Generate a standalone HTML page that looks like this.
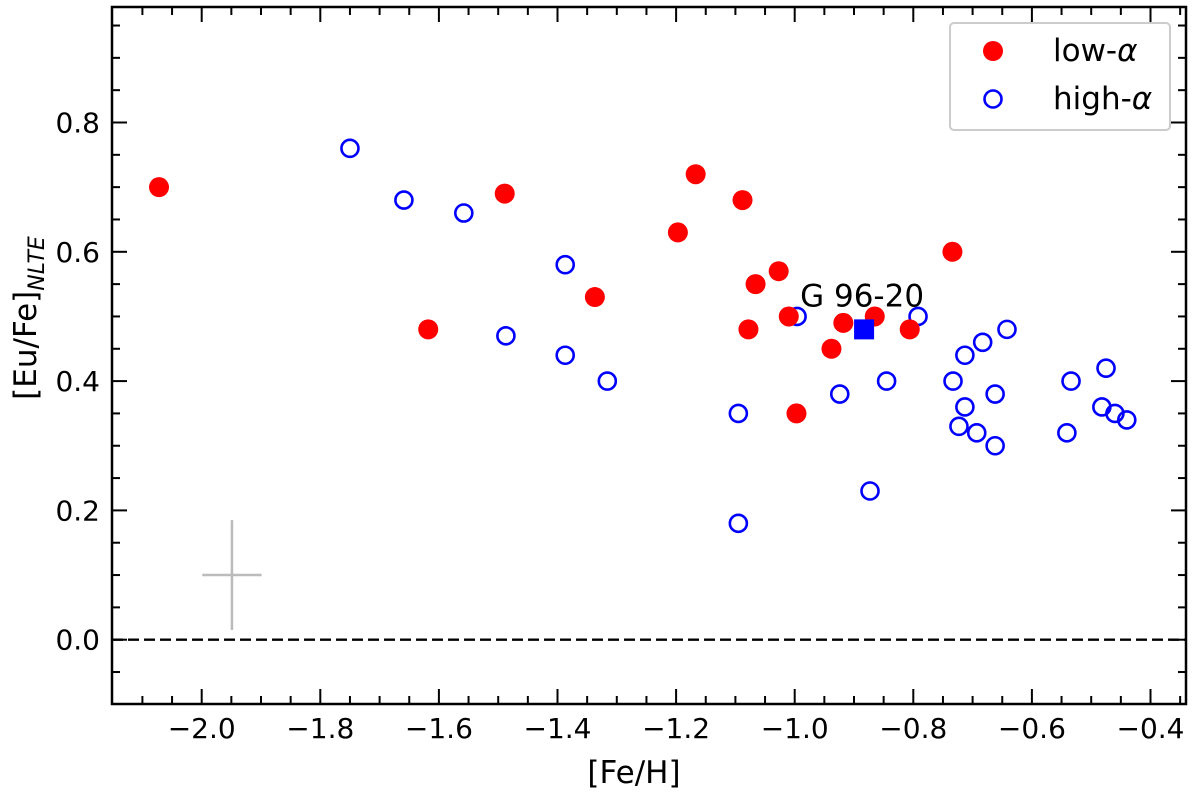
<!DOCTYPE html>
<html><head><meta charset="utf-8"><style>
body{margin:0;background:#fff;}
svg{display:block;font-family:"DejaVu Sans","Liberation Sans",sans-serif;}
</style></head><body>
<svg id="chart" width="1200" height="795">
</svg>
<script>
const lowAlphaFe=[-2.072,-1.618,-1.489,-1.337,-1.197,-1.167,-1.088,-1.078,-1.066,-1.027,-1.010,-0.997,-0.938,-0.918,-0.865,-0.806,-0.734];
const lowAlphaEu=[0.70,0.48,0.69,0.53,0.63,0.72,0.68,0.48,0.55,0.57,0.50,0.35,0.45,0.49,0.50,0.48,0.60];
const highAlphaFe=[-1.750,-1.659,-1.558,-1.487,-1.387,-1.387,-1.316,-1.095,-1.095,-0.996,-0.924,-0.873,-0.845,-0.792,-0.733,-0.723,-0.713,-0.713,-0.693,-0.683,-0.662,-0.662,-0.642,-0.534,-0.541,-0.475,-0.482,-0.460,-0.440];
const highAlphaEu=[0.76,0.68,0.66,0.47,0.58,0.44,0.40,0.35,0.18,0.50,0.38,0.23,0.40,0.50,0.40,0.33,0.44,0.36,0.32,0.46,0.30,0.38,0.48,0.40,0.32,0.42,0.36,0.35,0.34];
const starFe=[-0.883], starEu=[0.48], starLabel=["G 96-20"];
const errFe=[-1.949], errEu=[0.10], errX=[0.05], errY=[0.085];
const xTicks=[-2.0,-1.8,-1.6,-1.4,-1.2,-1.0,-0.8,-0.6,-0.4];
const xTickLabels=["−2.0","−1.8","−1.6","−1.4","−1.2","−1.0","−0.8","−0.6","−0.4"];
const yTicks=[0.0,0.2,0.4,0.6,0.8];
const yTickLabels=["0.0","0.2","0.4","0.6","0.8"];

const L=112,R=1186,T=7,B=704;
const X=v=>201.7+(v+2.0)*593;
const Y=v=>639.7-v*646.5;
const svg=document.getElementById('chart');
const NS='http://www.w3.org/2000/svg';
function mk(tag,attrs,parent){const e=document.createElementNS(NS,tag);for(const k in attrs)e.setAttribute(k,attrs[k]);(parent||svg).appendChild(e);return e;}

let zl=mk('line',{x1:L,x2:R,y1:Y(0),y2:Y(0),stroke:'#000','stroke-width':2.4,'stroke-dasharray':'11,5'});



for(let i=0;i<errFe.length;i++){
 let h=mk('line',{x1:X(errFe[i]-errX[i]),x2:X(errFe[i]+errX[i]),y1:Y(errEu[i]),y2:Y(errEu[i]),stroke:'#bbb','stroke-width':2.5});
 
 
 let v=mk('line',{x1:X(errFe[i]),x2:X(errFe[i]),y1:Y(errEu[i]-errY[i]),y2:Y(errEu[i]+errY[i]),stroke:'#bbb','stroke-width':2.5});
 
 
}

for(let i=0;i<highAlphaFe.length;i++){
 let c=mk('circle',{cx:X(highAlphaFe[i]),cy:Y(highAlphaEu[i]),r:8.5,fill:'none',stroke:'#0000ff','stroke-width':2.6});
 
 
}
for(let i=0;i<lowAlphaFe.length;i++){
 let c=mk('circle',{cx:X(lowAlphaFe[i]),cy:Y(lowAlphaEu[i]),r:10,fill:'#ff0000'});
 
 
}
for(let i=0;i<starFe.length;i++){
 let s=mk('rect',{x:X(starFe[i])-10,y:Y(starEu[i])-10,width:20,height:20,fill:'#0000ff'});
 
 
 let t=mk('text',{x:X(starFe[i])-2,y:Y(starEu[i])-23,'font-size':31,'text-anchor':'middle',fill:'#000'});
 t.textContent=starLabel[i];
 
 
}

let fr=mk('rect',{x:L,y:T,width:R-L,height:B-T,fill:'none',stroke:'#000','stroke-width':2.5});



for(let v=-2.15;v<=-0.3;v+=0.05){
 const vv=Math.round(v*100)/100; const px=X(vv); if(px<L+1||px>R-1)continue;
 const major=Math.abs(Math.round(vv*5)-vv*5)<1e-6; const len=major?15:8;
 mk('line',{x1:px,x2:px,y1:B,y2:B-len,stroke:'#000','stroke-width':2});
 mk('line',{x1:px,x2:px,y1:T,y2:T+len,stroke:'#000','stroke-width':2});
}
for(let i=0;i<xTicks.length;i++){
 let t=mk('text',{x:X(xTicks[i]),y:738,'font-size':28,'text-anchor':'middle',fill:'#000'});
 t.textContent=xTickLabels[i];
 
 
}
for(let v=-0.1;v<=1.0;v+=0.05){
 const vv=Math.round(v*100)/100; const py=Y(vv); if(py<T+1||py>B-1)continue;
 const major=Math.abs(Math.round(vv*5)-vv*5)<1e-6; const len=major?15:8;
 mk('line',{x1:L,x2:L+len,y1:py,y2:py,stroke:'#000','stroke-width':2});
 mk('line',{x1:R,x2:R-len,y1:py,y2:py,stroke:'#000','stroke-width':2});
}
for(let i=0;i<yTicks.length;i++){
 let t=mk('text',{x:100,y:Y(yTicks[i])+10,'font-size':28,'text-anchor':'end',fill:'#000'});
 t.textContent=yTickLabels[i];
 
 
}
</script>
<svg style="position:absolute;left:0;top:0" width="1200" height="795">
<text x="634" y="783" font-size="31" text-anchor="middle" font-family="DejaVu Sans, sans-serif">[Fe/H]</text>
<text transform="translate(36,318) rotate(-90)" font-size="31" text-anchor="middle" font-family="DejaVu Sans, sans-serif">[Eu/Fe]<tspan font-size="22" font-style="italic" dy="8">NLTE</tspan></text>
<g>
<rect x="950" y="23" width="220" height="107" rx="4" fill="#fff" stroke="#ccc" stroke-width="2"/>
<circle cx="993" cy="51" r="10" fill="#ff0000"/>
<text x="1053" y="61" font-size="31" font-family="DejaVu Sans, sans-serif">low-<tspan font-style="italic">α</tspan></text>
<circle cx="993" cy="99" r="8.5" fill="none" stroke="#0000ff" stroke-width="2.6"/>
<text x="1053" y="109" font-size="31" font-family="DejaVu Sans, sans-serif">high-<tspan font-style="italic">α</tspan></text>
</g>
</svg>
</body></html>
